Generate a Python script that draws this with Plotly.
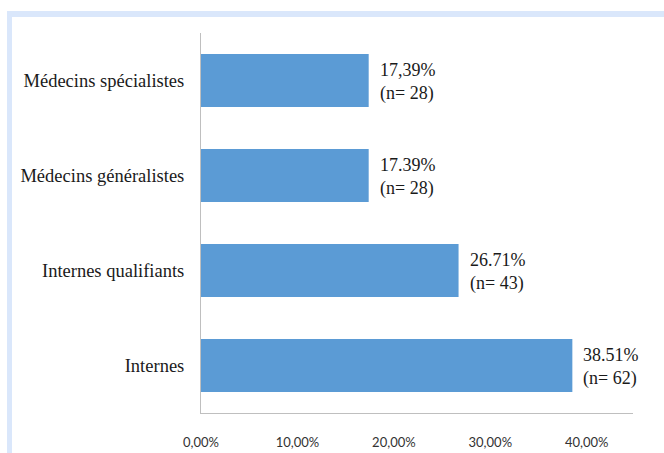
import plotly.graph_objects as go

categories = ["Internes", "Internes qualifiants", "Médecins généralistes", "Médecins spécialistes"]
values = [0.3851, 0.2671, 0.1739, 0.1739]
pct_labels = ["38.51%", "26.71%", "17.39%", "17,39%"]
counts = [62, 43, 28, 28]
tick_vals = [0.0, 0.1, 0.2, 0.3, 0.4]
tick_text = ["0,00%", "10,00%", "20,00%", "30,00%", "40,00%"]

W, H = 664, 453
L, R, T, B = 201, 31, 33, 40
pw, ph = W - L - R, H - T - B

SERIF = "Liberation Serif, serif"
SANS = "Lato, sans-serif"

fig = go.Figure()
fig.add_trace(go.Bar(
    y=categories, x=values, orientation="h",
    marker=dict(color="#5B9BD5", line=dict(width=0)),
    width=0.56, hoverinfo="skip",
))

for c, v, p, n in zip(categories, values, pct_labels, counts):
    fig.add_annotation(
        x=v, y=c, xref="x", yref="y", text=f"{p}<br>(n= {n})",
        showarrow=False, xanchor="left", yanchor="middle", xshift=9, yshift=-1, align="left",
        font=dict(family=SERIF, size=18, color="#1a1a1a"),
    )

def px_x(x):
    return (x - L) / pw

def px_y(y):
    return (H - B - y) / ph

frame = "#DAE7FB"
fig.add_shape(type="rect", xref="paper", yref="paper",
              x0=px_x(7), x1=px_x(W + 5), y0=px_y(17), y1=px_y(11),
              fillcolor=frame, line=dict(width=0), layer="below")
fig.add_shape(type="rect", xref="paper", yref="paper",
              x0=px_x(7), x1=px_x(12), y0=px_y(H + 5), y1=px_y(11),
              fillcolor=frame, line=dict(width=0), layer="below")

fig.update_layout(
    width=W, height=H,
    margin=dict(l=L, r=R, t=T, b=B),
    paper_bgcolor="white", plot_bgcolor="white",
    showlegend=False,
    xaxis=dict(
        range=[0, 0.448], tickvals=tick_vals, ticktext=tick_text,
        showgrid=False, zeroline=False, showline=True, linecolor="#BFBFBF", linewidth=1,
        ticks="", ticklabelstandoff=17, automargin=False,
        tickfont=dict(family=SANS, size=13, color="#333333"),
        fixedrange=True,
    ),
    yaxis=dict(
        categoryorder="array", categoryarray=categories,
        showgrid=False, zeroline=False, showline=True, linecolor="#BFBFBF", linewidth=1,
        ticks="", ticklabelstandoff=12, automargin=False,
        tickfont=dict(family=SERIF, size=18.5, color="#1a1a1a"),
        fixedrange=True,
    ),
)

fig.write_html("out.html")
